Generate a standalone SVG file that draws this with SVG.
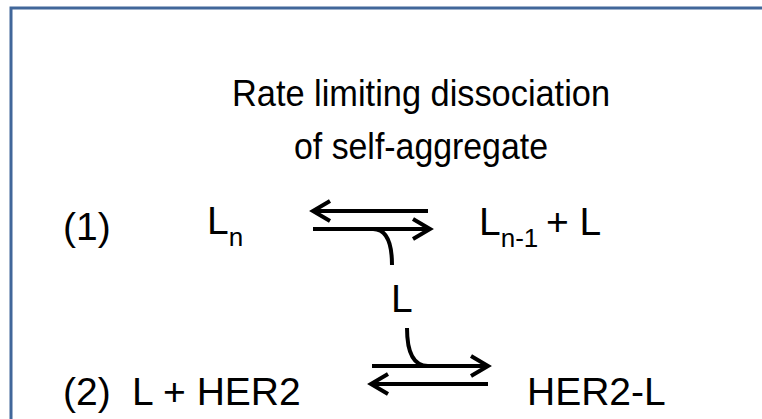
<svg xmlns="http://www.w3.org/2000/svg" width="762" height="419" viewBox="0 0 762 419">
<defs>
<style>
.t{font-family:"Liberation Sans",Arial,sans-serif;font-size:39px;fill:#000}
.h{font-size:37px}
.s{font-size:26px}
.ln{fill:none;stroke:#000;stroke-width:4}
</style>
<marker id="ah" markerUnits="userSpaceOnUse" markerWidth="24" markerHeight="26" viewBox="-20 -12 24 24" refX="0" refY="0" orient="auto">
<path d="M-17,-10 L0,0 L-17,10" fill="none" stroke="#000" stroke-width="4"/>
</marker>
</defs>
<rect width="762" height="419" fill="#fff"/>
<rect x="11" y="8" width="800" height="500" fill="none" stroke="#41679A" stroke-width="3"/>
<g id="title">
<text class="t h" x="421" y="106" text-anchor="middle" textLength="378" lengthAdjust="spacingAndGlyphs">Rate limiting dissociation</text>
<text class="t h" x="421" y="159" text-anchor="middle" textLength="254" lengthAdjust="spacingAndGlyphs">of self-aggregate</text>
</g>
<g id="eq1-label"><text class="t" x="63" y="240">(1)</text></g>
<g id="Ln"><text class="t" x="207" y="234">L<tspan class="s" dy="12">n</tspan></text></g>
<g id="Ln1-L"><text class="t" x="479" y="235">L<tspan class="s" dy="12">n-1</tspan><tspan dy="-12" x="546">+ L</tspan></text></g>
<g id="L-mid"><text class="t" x="391" y="312">L</text></g>
<g id="eq2-label"><text class="t" x="63" y="405">(2)<tspan x="132">L + HER2</tspan></text></g>
<g id="HER2-L"><text class="t" x="527" y="405">HER2-L</text></g>
<g id="connectors">
<line class="ln" x1="428" y1="211" x2="313" y2="211" marker-end="url(#ah)"/>
<line class="ln" x1="313" y1="229" x2="430" y2="229" marker-end="url(#ah)"/>
<path class="ln" d="M373,229 Q392,229 392,265"/>
<line class="ln" x1="372" y1="366" x2="488" y2="366" marker-end="url(#ah)"/>
<line class="ln" x1="488" y1="384" x2="371" y2="384" marker-end="url(#ah)"/>
<path class="ln" d="M407,328 Q407,366 428,366"/>
</g>
</svg>
